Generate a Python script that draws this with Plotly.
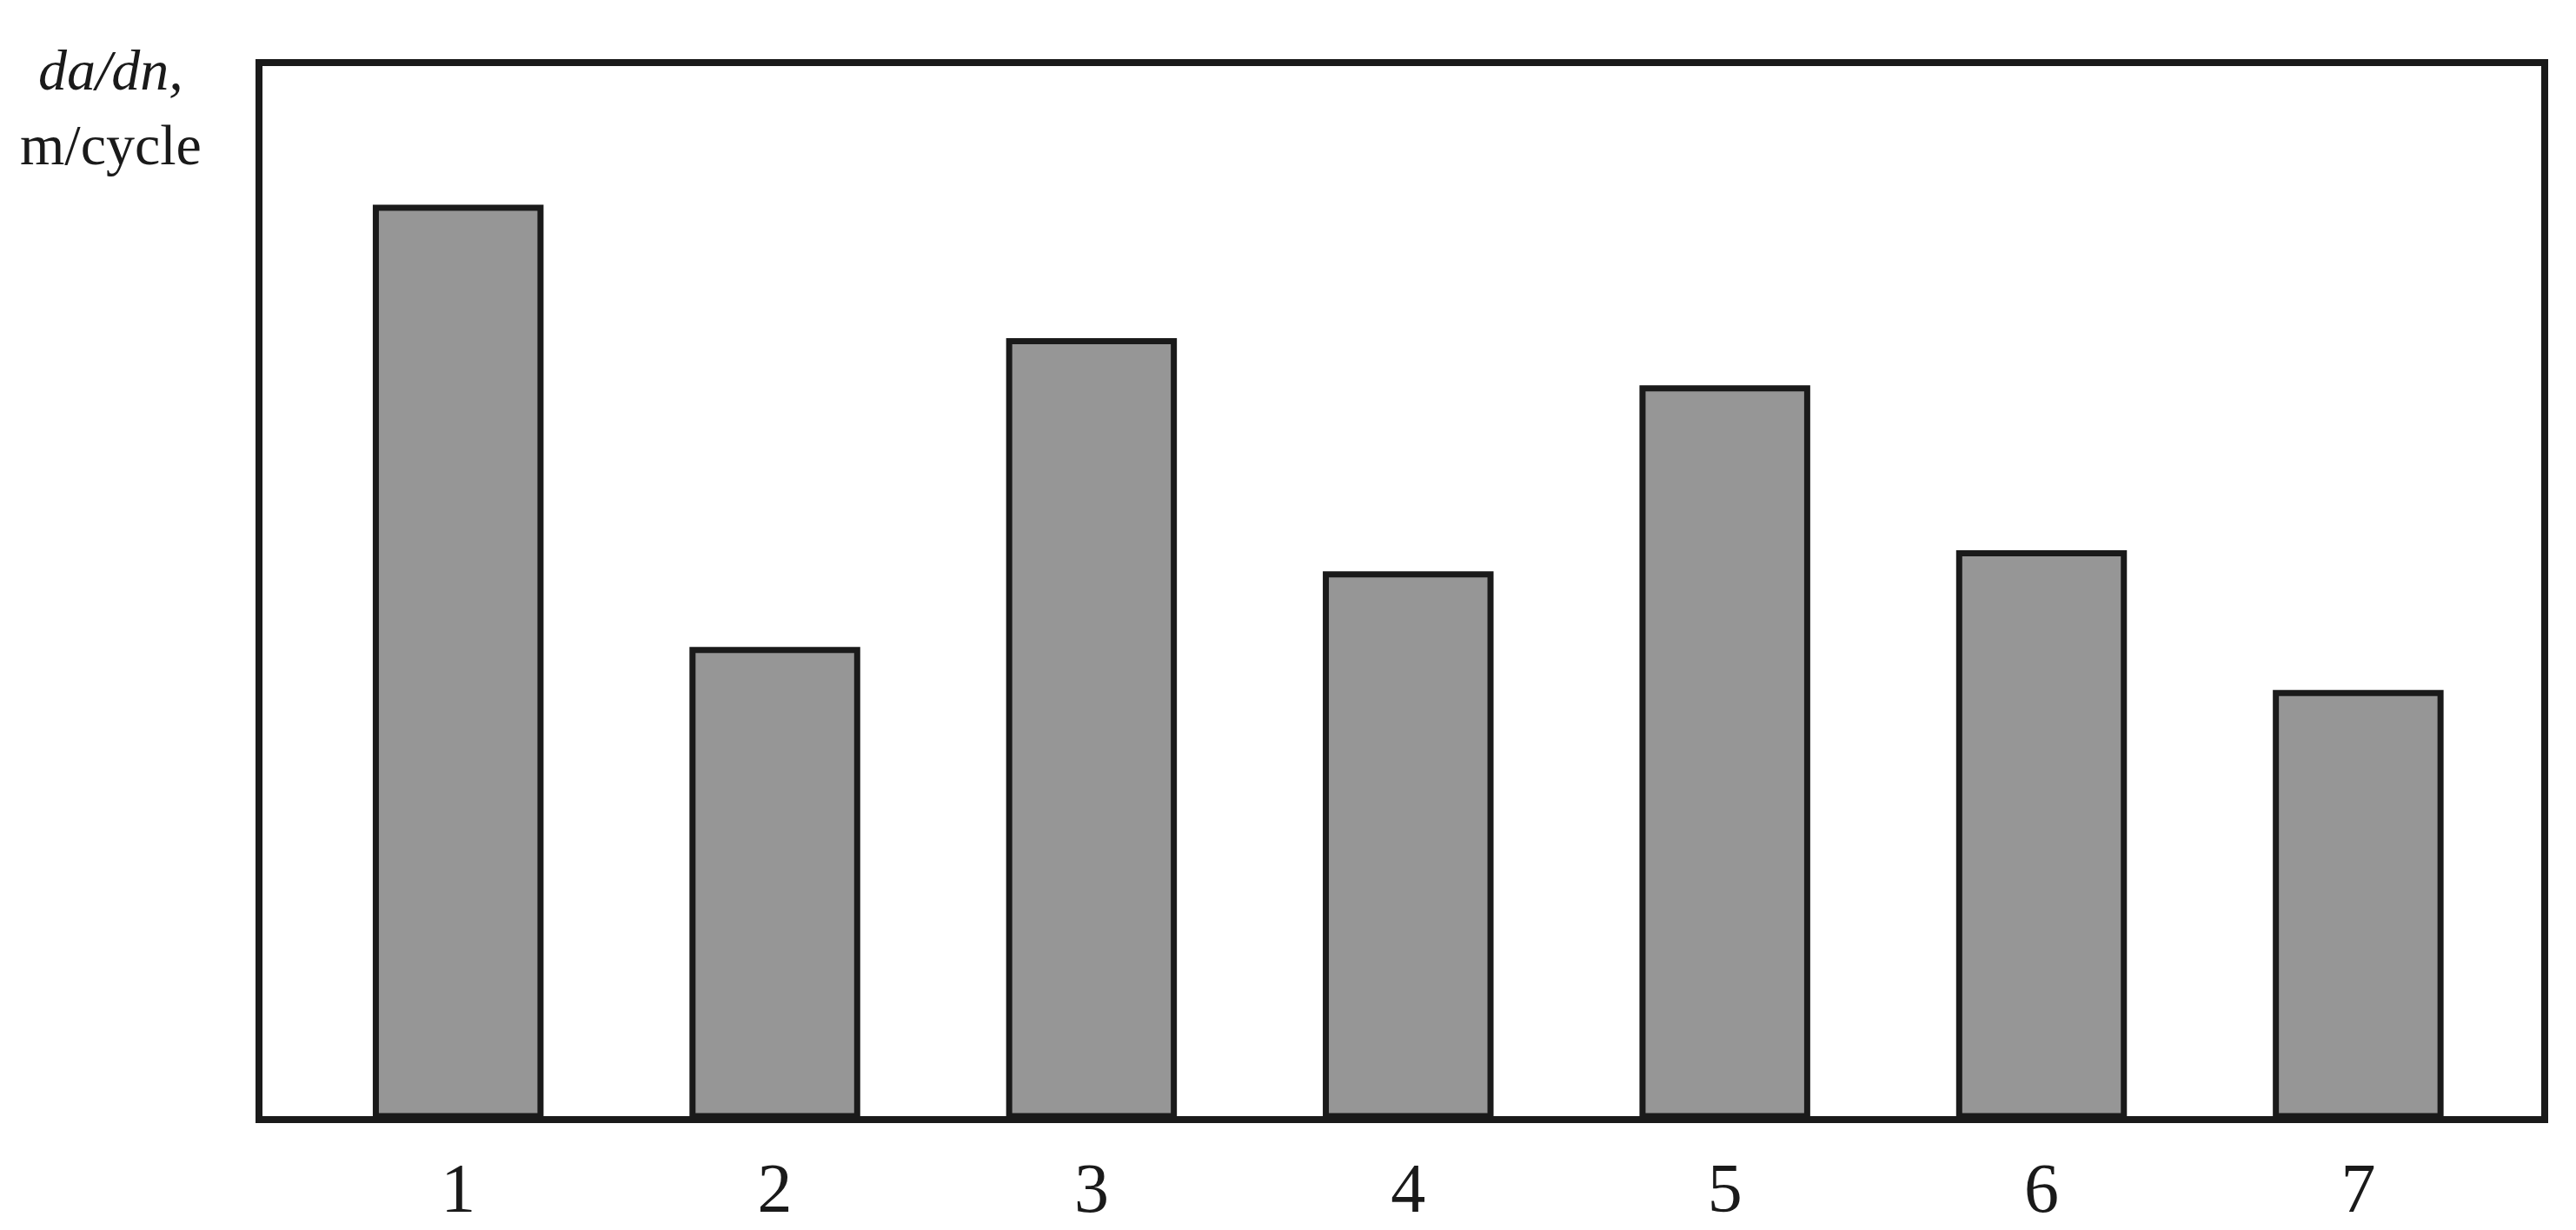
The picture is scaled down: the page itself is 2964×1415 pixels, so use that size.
import plotly.graph_objs as go

# crack growth rate per specimen (relative)
specimens = [1, 2, 3, 4, 5, 6, 7]
growth_rate = [8.65, 4.44, 7.38, 5.16, 6.93, 5.36, 4.03]
tick_labels = ["1", "2", "3", "4", "5", "6", "7"]

fig = go.Figure()
fig.add_trace(go.Bar(
    x=specimens,
    y=growth_rate,
    width=0.52,
    marker=dict(color="#969696", line=dict(color="#1a1a1a", width=7)),
    showlegend=False,
))

fig.update_layout(
    width=2964, height=1415,
    margin=dict(l=294, r=48, t=68, b=128),
    paper_bgcolor="white",
    plot_bgcolor="white",
    font=dict(family="Liberation Serif", color="#1a1a1a"),
    xaxis=dict(
        range=[0.382, 7.578],
        tickvals=specimens,
        ticktext=tick_labels,
        showgrid=False, zeroline=False,
        showline=True, mirror=True, linewidth=8, linecolor="#1a1a1a",
        ticks="", tickfont=dict(size=80),
        ticklabelstandoff=6,
    ),
    yaxis=dict(
        range=[0, 10],
        showgrid=False, zeroline=False,
        showline=True, mirror=True, linewidth=8, linecolor="#1a1a1a",
        showticklabels=False, ticks="",
    ),
)

fig.add_annotation(
    text="<i>da/dn,</i><br>m/cycle",
    xref="paper", yref="paper",
    x=-0.0665, y=0.961,
    xanchor="center", yanchor="middle",
    showarrow=False,
    font=dict(size=66, family="Liberation Serif", color="#1a1a1a"),
)

fig.write_html("out.html")
